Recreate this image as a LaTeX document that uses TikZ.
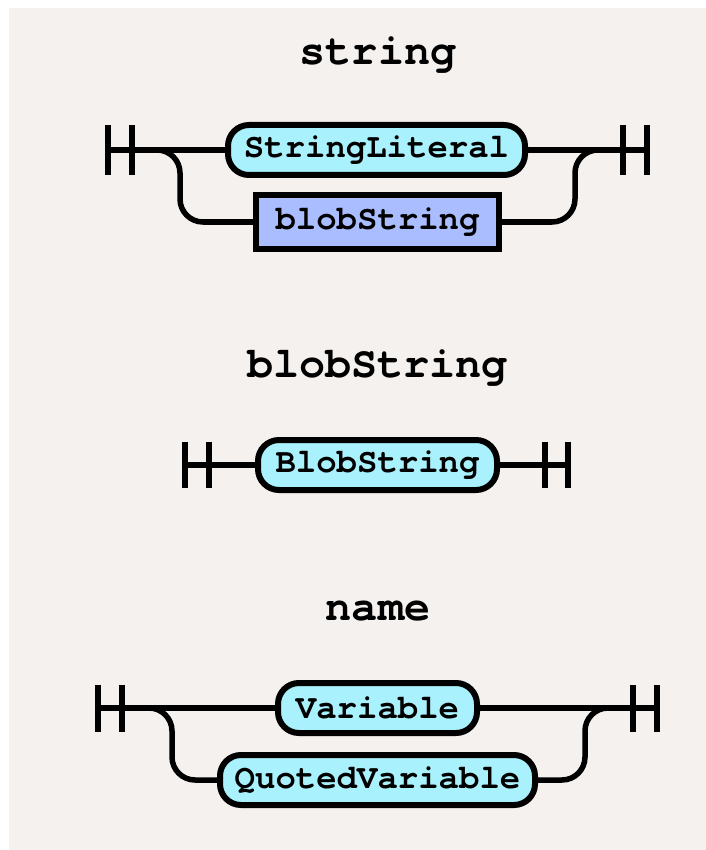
\documentclass[tikz,border=0pt]{standalone}
\usepackage{fontspec}
\newfontfamily\rrfont{TeX Gyre Cursor}
\definecolor{bgc}{RGB}{245,241,238}
\definecolor{termfill}{RGB}{168,241,253}
\definecolor{ntfill}{RGB}{170,190,255}
\pgfdeclarelayer{paper}
\pgfdeclarelayer{tracks}
\pgfsetlayers{paper,tracks,main}
\tikzset{
  title/.style={anchor=base, font=\rrfont\bfseries\fontsize{43.5}{44}\selectfont},
  term/.style={draw, line width=6pt, fill=termfill, rounded corners=21pt,
    minimum height=50pt, inner sep=0pt, font=\rrfont\bfseries\fontsize{34}{34}\selectfont},
  nonterm/.style={draw, line width=6pt, fill=ntfill, sharp corners,
    minimum height=54pt, inner sep=0pt, font=\rrfont\bfseries\fontsize{34}{34}\selectfont},
  rail/.style={line width=5.5pt},
  branch/.style={rail, rounded corners=23pt},
  bar/.style={line width=6pt}
}
\begin{document}
\begin{tikzpicture}[x=1pt,y=-1pt]
\useasboundingbox (0,0) rectangle (705,850);
\begin{pgfonlayer}{paper}
\fill[bgc] (9,8) rectangle (730,880);
\end{pgfonlayer}

% ---- string ----
\node[title] (t1) at (378,65) {string};
\node[term, minimum width=297pt] (sl) at (376.5,150) {StringLiteral};
\node[nonterm, minimum width=243pt] (bs) at (377.5,222) {blobString};
\coordinate (a1) at (108,150);
\coordinate (a2) at (132,150);
\coordinate (b1) at (623,150);
\coordinate (b2) at (647,150);
\coordinate (k1) at (180,222);
\coordinate (k2) at (575,150);
\draw[bar] (108,125) -- (108,175) (132,125) -- (132,175);
\draw[bar] (623,125) -- (623,175) (647,125) -- (647,175);
\begin{pgfonlayer}{tracks}
\draw[rail] (a1) -- (sl.west);
\draw[rail] (sl.east) -- (b2);
\draw[branch] (a2) -| (k1) -- (bs.west);
\draw[branch] (bs.east) -| (k2) -- (b1);
\end{pgfonlayer}

% ---- blobString ----
\node[title] (t2) at (377.5,377) {blobString};
\node[term, minimum width=239pt] (bp) at (377.5,465) {BlobString};
\coordinate (c1) at (185,465);
\coordinate (c2) at (568,465);
\draw[bar] (185,442) -- (185,488) (209,442) -- (209,488);
\draw[bar] (545,442) -- (545,488) (568,442) -- (568,488);
\begin{pgfonlayer}{tracks}
\draw[rail] (c1) -- (bp.west);
\draw[rail] (bp.east) -- (c2);
\end{pgfonlayer}

% ---- name ----
\node[title] (t3) at (378,620) {name};
\node[term, minimum width=199pt] (var) at (377.5,708) {Variable};
\node[term, minimum width=315pt] (qv) at (377.5,780) {QuotedVariable};
\coordinate (d1) at (98,708);
\coordinate (d2) at (122,708);
\coordinate (e1) at (633,708);
\coordinate (e2) at (657,708);
\coordinate (m1) at (172,780);
\coordinate (m2) at (585,708);
\draw[bar] (98,685) -- (98,732) (122,685) -- (122,732);
\draw[bar] (633,685) -- (633,732) (657,685) -- (657,732);
\begin{pgfonlayer}{tracks}
\draw[rail] (d1) -- (var.west);
\draw[rail] (var.east) -- (e2);
\draw[branch] (d2) -| (m1) -- (qv.west);
\draw[branch] (qv.east) -| (m2) -- (e1);
\end{pgfonlayer}
\end{tikzpicture}
\end{document}
